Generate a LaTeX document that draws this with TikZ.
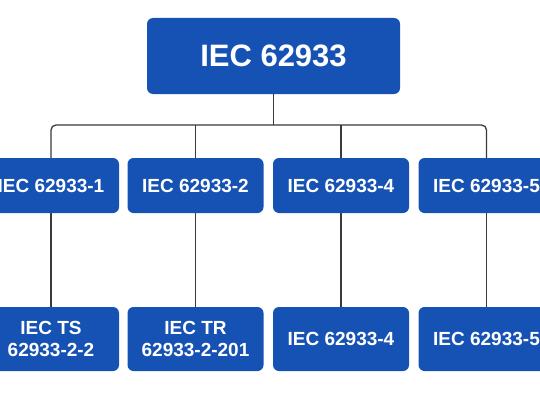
\documentclass[tikz,border=0pt]{standalone}
\usepackage{fontspec}
\setmainfont{Liberation Sans}
\definecolor{azul}{RGB}{22,82,180}
\definecolor{linha}{RGB}{58,58,58}
\begin{document}
\begin{tikzpicture}[
		x=1pt,
		y=1pt,
		caixa/.style={fill=azul, text=white, rounded corners=6pt, inner sep=0pt, align=center,
				minimum width=136pt, font=\fontsize{19}{22.8}\bfseries\selectfont},
		liga/.style={draw=linha, line width=1.3pt}
	]
	\clip (0,0) rectangle (540,400);
	\fill[white] (0,0) rectangle (540,400);

	% ---- norma principal ------------------------------------------
	\node[caixa, minimum width=253pt, minimum height=76pt,
		font=\fontsize{31}{36}\bfseries\selectfont] (raiz) at (273.5,344) {IEC 62933};

	% ---- partes ---------------------------------------------------
	\foreach \n/\x/\t in {p1/51/1, p2/195.5/2, p3/341/4, p4/486.5/5} {
			\node[caixa, minimum height=55pt] (\n) at (\x,214.5) {IEC 62933-\t};
		}

	% ---- documentos -----------------------------------------------
	\node[caixa, minimum height=64pt] (d1) at (51,61) {IEC TS\\62933-2-2};
	\node[caixa, minimum height=64pt] (d2) at (195.5,61) {IEC TR\\62933-2-201};
	\node[caixa, minimum height=64pt] (d3) at (341,61) {IEC 62933-4};
	\node[caixa, minimum height=64pt] (d4) at (486.5,61) {IEC 62933-5};

	% ---- ligacoes -------------------------------------------------
	\coordinate (barra) at (273.5,275);
	\draw[liga] (raiz.south) -- (barra);
	\draw[liga, rounded corners=5pt] (p1.north) |- (barra) -| (p4.north);
	\draw[liga] (p2.north) -- (p2.north |- barra);
	\draw[liga] (p3.north) -- (p3.north |- barra);
	\foreach \i in {1,...,4} {
			\draw[liga] (p\i.south) -- (d\i.north);
		}
\end{tikzpicture}
\end{document}
